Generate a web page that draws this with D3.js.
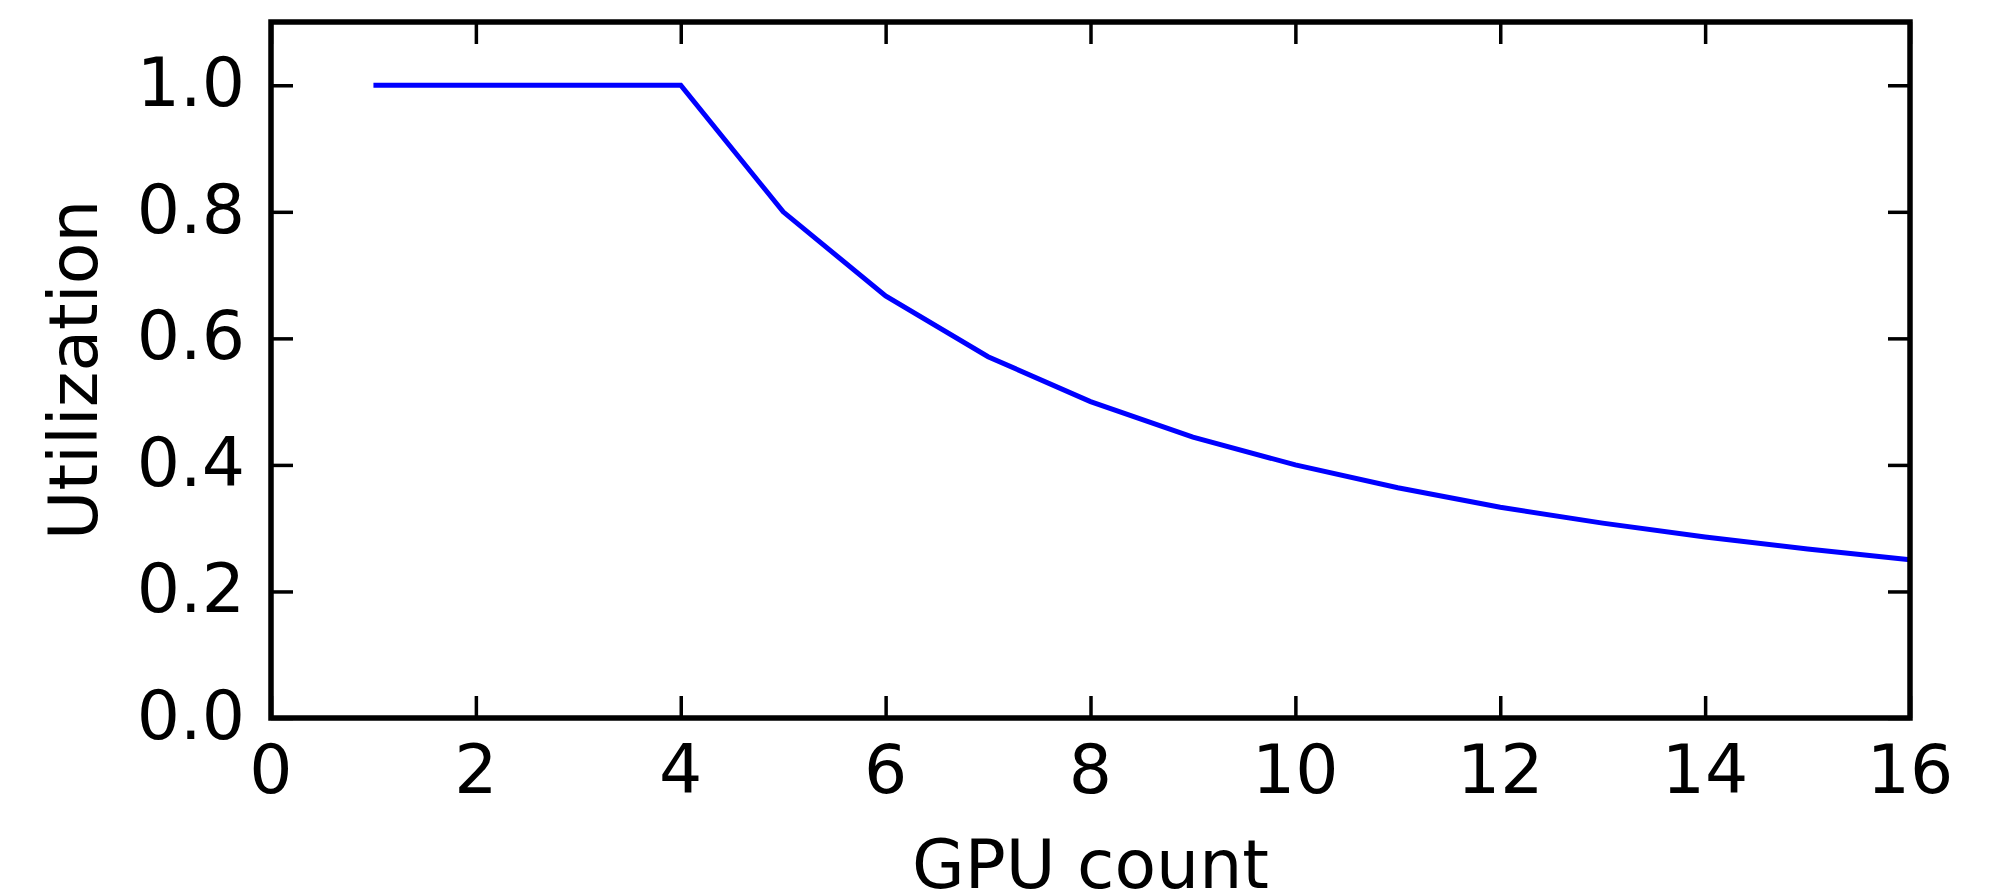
<!DOCTYPE html>
<html>
<head>
<meta charset="utf-8">
<script src="https://cdn.jsdelivr.net/npm/d3@7"></script>
<style>
  html, body { margin: 0; padding: 0; background: #fff; }
  svg { display: block; }
  text { font-family: "DejaVu Sans", sans-serif; fill: #000; }
</style>
</head>
<body>
<svg id="chart" width="1997" height="895"></svg>
<script>
const gpuCount = [1, 2, 3, 4, 5, 6, 7, 8, 9, 10, 11, 12, 13, 14, 15, 16];
const utilization = [1.0, 1.0, 1.0, 1.0, 0.8, 0.667, 0.571, 0.5, 0.444, 0.4, 0.364, 0.333, 0.308, 0.286, 0.267, 0.25];
const xTicks = [0, 2, 4, 6, 8, 10, 12, 14, 16];
const yTicks = [0.0, 0.2, 0.4, 0.6, 0.8, 1.0];

(function () {
const mLeft = 271, mRight = 1910, mTop = 22, mBottom = 718;

const svg = d3.select("#chart");
const x = d3.scaleLinear().domain([0, 16]).range([mLeft, mRight]);
const y = d3.scaleLinear().domain([0, 1.1]).range([mBottom, mTop]);

const tickLen = 22;
const fs = 68;

const xAxisB = d3.axisBottom(x).tickValues(xTicks).tickSize(-tickLen).tickFormat("");
const xAxisT = d3.axisTop(x).tickValues(xTicks).tickSize(-tickLen).tickFormat("");
const yAxisL = d3.axisLeft(y).tickValues(yTicks).tickSize(-tickLen).tickFormat("");
const yAxisR = d3.axisRight(y).tickValues(yTicks).tickSize(-tickLen).tickFormat("");

function styleAxis(g) {
  g.select(".domain").remove();
  g.selectAll(".tick line").attr("stroke", "#000").attr("stroke-width", 3.5);
}
svg.append("g").attr("transform", `translate(0,${mBottom})`).call(xAxisB).call(styleAxis);
svg.append("g").attr("transform", `translate(0,${mTop})`).call(xAxisT).call(styleAxis);
svg.append("g").attr("transform", `translate(${mLeft},0)`).call(yAxisL).call(styleAxis);
svg.append("g").attr("transform", `translate(${mRight},0)`).call(yAxisR).call(styleAxis);

const line = d3.line().x((d, i) => x(gpuCount[i])).y(d => y(d));
svg.append("path")
  .datum(utilization)
  .attr("d", line)
  .attr("fill", "none")
  .attr("stroke", "#0000ff")
  .attr("stroke-width", 5)
  .attr("stroke-linejoin", "miter");

svg.append("rect")
  .attr("x", mLeft).attr("y", mTop)
  .attr("width", mRight - mLeft).attr("height", mBottom - mTop)
  .attr("fill", "none").attr("stroke", "#000").attr("stroke-width", 5.5);

svg.append("g").selectAll("text").data(xTicks).join("text")
  .attr("x", d => x(d)).attr("y", mBottom + 75)
  .attr("text-anchor", "middle").attr("font-size", fs)
  .text(d => d3.format("d")(d));

svg.append("g").selectAll("text").data(yTicks).join("text")
  .attr("x", mLeft - 26).attr("y", d => y(d) + 21)
  .attr("text-anchor", "end").attr("font-size", fs)
  .text(d => d3.format(".1f")(d));

svg.append("text")
  .attr("x", (mLeft + mRight) / 2).attr("y", 888)
  .attr("text-anchor", "middle").attr("font-size", fs)
  .text("GPU count");

svg.append("text")
  .attr("transform", `translate(97,${(mTop + mBottom) / 2}) rotate(-90)`)
  .attr("text-anchor", "middle").attr("font-size", fs)
  .text("Utilization");
})();
</script>
</body>
</html>
